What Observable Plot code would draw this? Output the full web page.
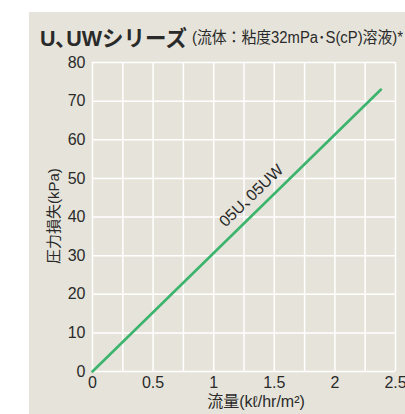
<!DOCTYPE html>
<html><head><meta charset="utf-8">
<script src="https://cdn.jsdelivr.net/npm/d3@7"></script>
<script src="https://cdn.jsdelivr.net/npm/@observablehq/plot@0.6"></script>
<style>
html,body{margin:0;padding:0;background:#fff;width:405px;height:414px;overflow:hidden;}
#wrap{position:relative;width:405px;height:414px;}
#panel{position:absolute;left:29px;top:12px;right:0;bottom:0;background:#e6e4da;}
#title{position:absolute;left:40px;top:20px;white-space:nowrap;color:#2a2a2a;}
#t1{font-family:"Liberation Sans","Noto Sans CJK JP",sans-serif;font-weight:bold;font-size:22px;display:inline-block;transform-origin:left bottom;position:absolute;left:0;top:0;}
#t2{font-family:"Liberation Sans","Noto Sans CJK JP",sans-serif;font-size:16px;display:inline-block;transform-origin:left bottom;position:absolute;top:4px;}
#chart{position:absolute;left:0;top:50px;}
</style></head>
<body><div id="wrap"><div id="panel"></div>
<div id="title"><span id="t1"></span><span id="t2"></span></div>
<div id="chart"></div></div>
<script>
const titleText = "U､UWシリーズ";
const subtitleText = "(流体：粘度32mPa･S(cP)溶液)*";
const xLabel = "流量(kℓ/hr/m²)";
const yLabel = "圧力損失(kPa)";
const seriesName = "05U､05UW";
const flow = [0, 2.38];
const pressure = [0, 73];
const xTicks = [0, 0.5, 1, 1.5, 2, 2.5];
const yTicks = [0, 10, 20, 30, 40, 50, 60, 70, 80];
const xGrid = [0, 0.25, 0.5, 0.75, 1, 1.25, 1.5, 1.75, 2, 2.25, 2.5];
const labelPos = {x: 1.31, y: 45.5};

const data = flow.map((f, i) => ({x: f, y: pressure[i]}));

const t1 = document.getElementById("t1");
const t2 = document.getElementById("t2");
t1.textContent = titleText;
t2.textContent = subtitleText;
function fit(el, w){ const r = el.getBoundingClientRect().width; el.style.transform = `scaleX(${w / r})`; }
fit(t1, 147);
t2.style.left = "152px";
fit(t2, 211);

const font = '"Liberation Sans","Noto Sans CJK JP",sans-serif';
const cjk = '"Liberation Sans","Noto Sans CJK JP",sans-serif';
const chart = Plot.plot({
  width: 405,
  height: 364,
  marginLeft: 92,
  marginRight: 10,
  marginTop: 12,
  marginBottom: 43,
  style: {background: "transparent", fontFamily: font, fontSize: "16px", color: "#2a2a2a"},
  x: {domain: [0, 2.5], label: null},
  y: {domain: [0, 80], label: null},
  marks: [
    Plot.ruleX(xGrid, {stroke: "#fff", strokeWidth: 1.5}),
    Plot.ruleY(yTicks, {stroke: "#fff", strokeWidth: 1.5}),
    Plot.axisX({ticks: xTicks, tickSize: 0, tickPadding: 5, fontSize: 16, fontFamily: font, tickFormat: d => String(d), label: null}),
    Plot.axisY({ticks: yTicks, tickSize: 0, tickPadding: 7, fontSize: 16, fontFamily: font, label: null}),
    Plot.line(data, {x: "x", y: "y", stroke: "#3db46e", strokeWidth: 2.6}),
    Plot.text([labelPos], {x: "x", y: "y", text: () => seriesName, rotate: -44, fontSize: 16, fill: "#2a2a2a", fontFamily: cjk}),
    Plot.text([xLabel], {frameAnchor: "bottom", dy: 35, dx: 12, fontSize: 16, fill: "#2a2a2a", fontFamily: cjk}),
    Plot.text([yLabel], {frameAnchor: "left", dx: -38, dy: 47, rotate: -90, fontSize: 15, fill: "#2a2a2a", fontFamily: cjk})
  ]
});
document.getElementById("chart").appendChild(chart);
</script></body></html>
